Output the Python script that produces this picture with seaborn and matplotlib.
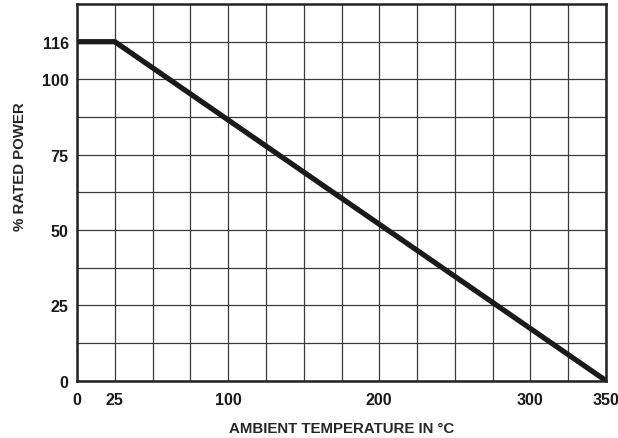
import numpy as np
import matplotlib
matplotlib.use("Agg")
import matplotlib.pyplot as plt
import seaborn as sns

# derating curve: flat to 25 C, then linear to zero at 350 C
temp = [0, 25, 350]
power = [116, 116, 0]

x_ticks = [0, 25, 100, 200, 300, 350]
y_ticks = [0, 25, 50, 75, 100, 116]
y_minor = [12.5, 37.5, 62.5, 87.5]

sns.set_theme(style="white")
plt.rcParams['font.family'] = ['Liberation Sans', 'DejaVu Sans']


def fwd(y):
    # chart squeezes 100..116 into one 12.5 grid step
    y = np.asarray(y, dtype=float)
    return np.where(y > 100, 100 + (y - 100) * 12.5 / 16, y)


def inv(y):
    y = np.asarray(y, dtype=float)
    return np.where(y > 100, 100 + (y - 100) * 16 / 12.5, y)


fig = plt.figure(figsize=(6.18, 4.39), dpi=100)
ax = fig.add_axes([0.1246, 0.1305, 0.856, 0.858])
ax.set_yscale('function', functions=(fwd, inv))

sns.lineplot(x=temp, y=power, ax=ax, color="#1a1a1a", linewidth=3.8,
             solid_capstyle="butt")

ax.set_xlim(0, 350)
ax.set_ylim(0, 132)
ax.set_xticks(np.arange(0, 351, 25), minor=True)
ax.set_xticks(x_ticks)
ax.set_yticks(y_minor, minor=True)
ax.set_yticks(y_ticks)
ax.set_xticklabels([str(v) for v in x_ticks], fontsize=11.6, fontweight="bold")
ax.set_yticklabels([str(v) for v in y_ticks], fontsize=11.6, fontweight="bold")
ax.tick_params(axis="both", which="both", length=0, colors="#1a1a1a")
ax.tick_params(axis="x", pad=8)
ax.tick_params(axis="y", pad=6)

ax.grid(True, which="both", color="#3a3a3a", linewidth=0.9)
ax.set_axisbelow(True)
for sp in ax.spines.values():
    sp.set_color("#222222")
    sp.set_linewidth(1.8)

ax.set_xlabel("AMBIENT TEMPERATURE IN °C", fontsize=10.8, fontweight="bold",
              labelpad=10)
ax.set_ylabel("% RATED POWER", fontsize=10.8, fontweight="bold")
ax.yaxis.set_label_coords(-0.095, 0.57)

plt.savefig("out.png", dpi=100)
